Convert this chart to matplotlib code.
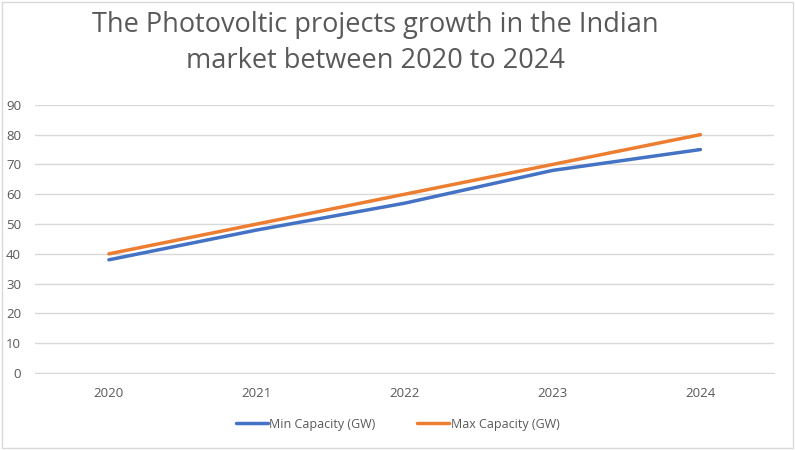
import matplotlib
matplotlib.use("Agg")
import matplotlib.pyplot as plt
import numpy as np

# ------------------------------------------------------------------
#  data
# ------------------------------------------------------------------
years = ["2020", "2021", "2022", "2023", "2024"]
min_capacity = [38, 48, 57, 68, 75]
max_capacity = [40, 50, 60, 70, 80]
y_ticks = [0, 10, 20, 30, 40, 50, 60, 70, 80, 90]

title_text = "The Photovoltic projects growth in the Indian\nmarket between 2020 to 2024"

# ------------------------------------------------------------------
#  style
# ------------------------------------------------------------------
plt.rcParams['font.family'] = ['Open Sans', 'DejaVu Sans']
text_gray = '#595959'
grid_gray = '#D9D9D9'
blue = '#4472C4'
orange = '#ED7D31'

fig = plt.figure(figsize=(7.95, 4.5), dpi=100)
ax = fig.add_axes([0.044, 0.171, 0.930, 0.596])

x = np.arange(len(years))
ax.plot(x, min_capacity, color=blue, linewidth=2.5, label='Min Capacity (GW)',
        solid_capstyle='round')
ax.plot(x, max_capacity, color=orange, linewidth=2.5, label='Max Capacity (GW)',
        solid_capstyle='round')

ax.set_xlim(-0.5, len(years) - 0.5)
ax.set_ylim(0, 90)
ax.set_yticks(y_ticks)
ax.set_xticks(x)
ax.set_xticklabels(years)
ax.yaxis.grid(True, color=grid_gray, linewidth=1.0)
ax.set_axisbelow(True)
for side in ['top', 'right', 'left']:
    ax.spines[side].set_visible(False)
ax.spines['bottom'].set_color(grid_gray)
ax.tick_params(axis='both', length=0, labelsize=9.5, colors=text_gray)
ax.tick_params(axis='x', pad=10)
ax.tick_params(axis='y', pad=10)

# title, set a bit left of centre like the original
fig.text(0.472, 0.905, title_text, ha='center', va='center', fontsize=19.5,
         color=text_gray, linespacing=1.4)

leg = fig.legend(loc='center', bbox_to_anchor=(0.5, 0.057), ncol=2, frameon=False,
                 fontsize=9, handlelength=2.6, handletextpad=0.1, columnspacing=3.3)
for t in leg.get_texts():
    t.set_color(text_gray)

# chart border
border = plt.Rectangle((0.002, 0.004), 0.996, 0.992, transform=fig.transFigure,
                       fill=False, edgecolor=grid_gray, linewidth=1.0)
fig.patches.append(border)

fig.savefig("out.png", dpi=100)
